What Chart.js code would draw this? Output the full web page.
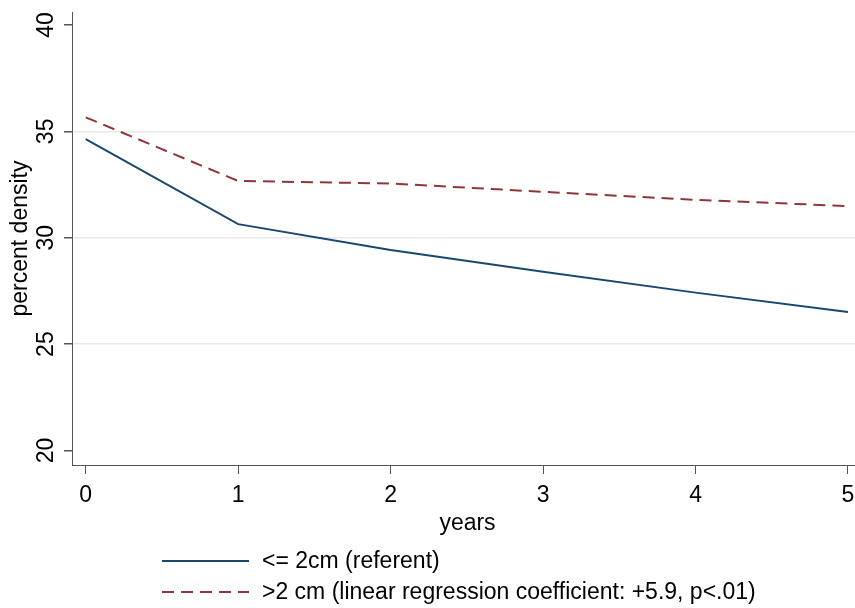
<!DOCTYPE html>
<html>
<head>
<meta charset="utf-8">
<script src="https://cdn.jsdelivr.net/npm/chart.js@4"></script>
<style>
html,body{margin:0;padding:0;background:#fff;}
#wrap{width:855px;height:608px;}
</style>
</head>
<body>
<div id="wrap"><canvas id="c" width="855" height="608"></canvas></div>
<script>
// ---- data ----
const years = [0, 1, 2, 3, 4, 5];
const smallTumor = [34.64, 30.64, 29.42, 28.40, 27.42, 26.51];
const largeTumor = [35.66, 32.67, 32.55, 32.16, 31.78, 31.49];
const yTicks = [20, 25, 30, 35, 40];
const xTickLabels = ['0', '1', '2', '3', '4', '5'];
const gridValues = [25, 30, 35];
const seriesNames = ['<= 2cm (referent)', '>2 cm (linear regression coefficient: +5.9, p<.01)'];
const xTitle = 'years';
const yTitle = 'percent density';

const FONT = '23px "Liberation Sans", Arial, sans-serif';
const AXIS = '#555555';

const toPts = arr => years.map((x, i) => ({x: x, y: arr[i]}));

const labelsPlugin = {
  id: 'stataLabels',
  afterDraw(chart) {
    const ctx = chart.ctx;
    const xs = chart.scales.x, ys = chart.scales.y;
    ctx.save();
    ctx.fillStyle = '#000';
    ctx.font = FONT;
    // x tick labels
    ctx.textAlign = 'center';
    ctx.textBaseline = 'alphabetic';
    years.forEach((v, i) => {
      ctx.fillText(xTickLabels[i], xs.getPixelForValue(v), 502);
    });
    // x title
    ctx.fillText(xTitle, (xs.left + xs.right) / 2 + 4, 530);
    // y tick labels rotated
    yTicks.forEach(v => {
      const py = ys.getPixelForValue(v);
      ctx.save();
      ctx.translate(53, py);
      ctx.rotate(-Math.PI / 2);
      ctx.textAlign = 'center';
      ctx.textBaseline = 'alphabetic';
      ctx.fillText(String(v), 0, 0);
      ctx.restore();
    });
    // y title
    ctx.save();
    ctx.translate(27, (ys.top + ys.bottom) / 2);
    ctx.rotate(-Math.PI / 2);
    ctx.textAlign = 'center';
    ctx.textBaseline = 'alphabetic';
    ctx.fillText(yTitle, 0, 0);
    ctx.restore();
    // legend
    const rows = [561, 592];
    chart.data.datasets.forEach((ds, i) => {
      const y = rows[i];
      ctx.save();
      ctx.strokeStyle = ds.borderColor;
      ctx.lineWidth = ds.borderWidth;
      ctx.setLineDash(ds.borderDash || []);
      ctx.beginPath();
      ctx.moveTo(162, y);
      ctx.lineTo(249, y);
      ctx.stroke();
      ctx.restore();
      ctx.textAlign = 'left';
      ctx.textBaseline = 'middle';
      ctx.fillText(seriesNames[i], 262, y + 1);
    });
    ctx.restore();
  }
};

new Chart(document.getElementById('c'), {
  type: 'line',
  data: {
    datasets: [
      {
        label: seriesNames[0],
        data: toPts(smallTumor),
        borderColor: '#1a476f',
        borderWidth: 2,
        pointRadius: 0,
        tension: 0,
        fill: false
      },
      {
        label: seriesNames[1],
        data: toPts(largeTumor),
        borderColor: '#90353b',
        borderWidth: 2,
        borderDash: [12, 7],
        pointRadius: 0,
        tension: 0,
        fill: false
      }
    ]
  },
  options: {
    responsive: false,
    animation: false,
    devicePixelRatio: 1,
    layout: {padding: {left: 0, top: 12, right: 0, bottom: 0}},
    plugins: {legend: {display: false}, tooltip: {enabled: false}},
    scales: {
      x: {
        type: 'linear',
        min: -0.0899,
        max: 5.046,
        afterBuildTicks: s => { s.ticks = years.map(v => ({value: v})); },
        afterFit: s => { s.height = 143; },
        ticks: {display: false},
        grid: {
          color: 'rgba(0,0,0,0)',
          tickColor: AXIS,
          tickLength: 9,
          drawTicks: true,
          lineWidth: 1
        },
        border: {display: true, color: AXIS, width: 1}
      },
      y: {
        type: 'linear',
        min: 19.318,
        max: 40.611,
        afterBuildTicks: s => { s.ticks = yTicks.map(v => ({value: v})); },
        afterFit: s => { s.width = 72; },
        ticks: {display: false},
        grid: {
          color: ctx => (ctx.tick && gridValues.includes(ctx.tick.value)) ? '#e8e8e8' : 'rgba(0,0,0,0)',
          tickColor: AXIS,
          tickLength: 8,
          drawTicks: true,
          lineWidth: 1.5
        },
        border: {display: true, color: AXIS, width: 1}
      }
    }
  },
  plugins: [labelsPlugin]
});
</script>
</body>
</html>
